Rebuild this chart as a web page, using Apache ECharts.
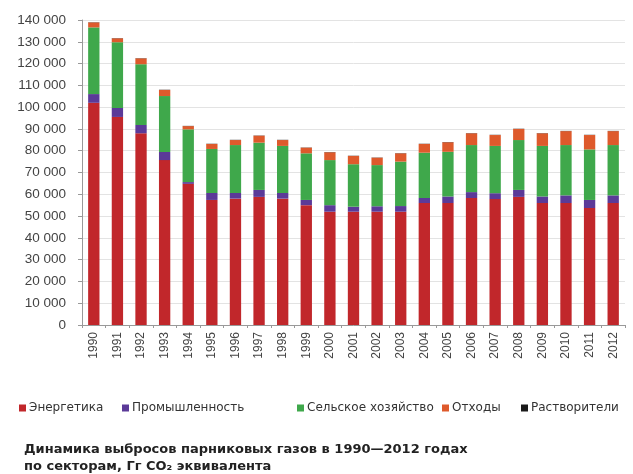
<!DOCTYPE html>
<html>
<head>
<meta charset="utf-8">
<script src="https://cdn.jsdelivr.net/npm/echarts@6/dist/echarts.min.js"></script>
<style>
html,body{margin:0;padding:0;background:#fff;}
#c{width:633px;height:474px;}
</style>
</head>
<body>
<div id="c"></div>
<script>
const years = ['1990','1991','1992','1993','1994','1995','1996','1997','1998','1999','2000','2001','2002','2003','2004','2005','2006','2007','2008','2009','2010','2011','2012'];
const energy = [102000,95500,88000,75700,64800,57400,58000,58800,58000,55000,52000,52000,52000,52000,56000,56000,58300,57800,58800,56000,56000,53700,56000];
const industry = [4000,4100,3800,3700,800,3200,2600,3200,2600,2400,3000,2300,2500,2600,2300,3000,2700,2700,3200,3000,3500,3700,3500];
const agriculture = [30600,30200,27900,25700,24200,20200,22000,21700,21600,21400,20700,19500,18900,20400,20800,20500,21600,21700,22900,23200,23100,23200,23100];
const waste = [2300,1800,2700,2800,1500,2300,2300,3200,2700,2600,3600,3800,3400,3800,4000,4400,5400,5000,5100,5800,6400,6600,6400];
const solvents = [100,100,100,100,100,100,100,100,100,100,100,100,100,100,100,100,100,100,100,100,100,100,100];
const seriesNames = ['Энергетика','Промышленность','Сельское хозяйство','Отходы','Растворители'];
const yTicks = [0,10000,20000,30000,40000,50000,60000,70000,80000,90000,100000,110000,120000,130000,140000];
const colors = ['#c1272b','#5b3a98','#3fa84b','#de5a2c','#1a1a1a'];

const chart = echarts.init(document.getElementById('c'));
const fmt = v => String(v).replace(/\B(?=(\d{3})+(?!\d))/g, ' ');
const mk = (name, data, color) => ({
  name, type:'bar', stack:'total', data, barWidth:'48%',
  itemStyle:{color}, emphasis:{disabled:true}
});
const legendLefts = [14, 117, 292, 437, 516];
const legends = seriesNames.map((n, i) => ({
  data:[n], left:legendLefts[i], top:397, itemWidth:7, itemHeight:7, icon:'rect',
  selectedMode:false,
  textStyle:{fontSize:12, color:'#333', padding:[0,0,0,-2], fontFamily:'DejaVu Sans, sans-serif'}
}));
chart.setOption({
  animation:false,
  textStyle:{fontFamily:'Liberation Sans, Arial, sans-serif'},
  title:{
    text:'Динамика выбросов парниковых газов в 1990—2012 годах\nпо секторам, Гг CO₂ эквивалента',
    left:19, top:436,
    textStyle:{fontSize:13, fontWeight:'bold', color:'#222', lineHeight:17, fontFamily:'DejaVu Sans, sans-serif'}
  },
  legend:legends,
  grid:{left:82, right:8, top:20, bottom:149},
  xAxis:{
    type:'category', data:years,
    axisLine:{lineStyle:{color:'#999'}},
    axisTick:{show:true, length:3, lineStyle:{color:'#999'}},
    axisLabel:{rotate:90, fontSize:12, color:'#444', margin:7}
  },
  yAxis:{
    type:'value', min:yTicks[0], max:yTicks[yTicks.length-1], interval:10000,
    axisLine:{show:true, lineStyle:{color:'#999'}},
    axisTick:{show:true, length:4, lineStyle:{color:'#999'}},
    splitLine:{lineStyle:{color:'#e3e3e3'}},
    axisLabel:{fontSize:13.5, color:'#444', margin:16, formatter:fmt}
  },
  series:[
    mk(seriesNames[0], energy, colors[0]),
    mk(seriesNames[1], industry, colors[1]),
    mk(seriesNames[2], agriculture, colors[2]),
    mk(seriesNames[3], waste, colors[3]),
    mk(seriesNames[4], solvents, colors[4])
  ]
});
</script>
</body>
</html>
